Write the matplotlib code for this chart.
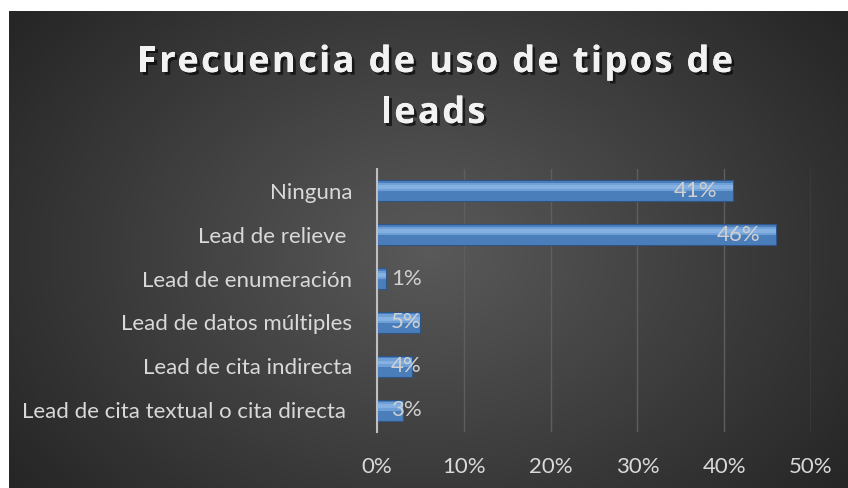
import numpy as np
import matplotlib.pyplot as plt
import matplotlib.patheffects as pe
from matplotlib.font_manager import FontProperties

# data, bottom row first
categories = ['Lead de cita textual o cita directa ', 'Lead de cita indirecta',
              'Lead de datos múltiples', 'Lead de enumeración',
              'Lead de relieve ', 'Ninguna']
values = [3, 4, 5, 1, 46, 41]
xticks = [0, 10, 20, 30, 40, 50]
xtick_labels = ['0%', '10%', '20%', '30%', '40%', '50%']
title_lines = ['Frecuencia de uso de tipos de', 'leads']

plt.rcParams['font.family'] = ['Lato', 'DejaVu Sans']

fig = plt.figure(figsize=(8.48, 4.88), dpi=100)
fig.patch.set_facecolor('white')

# dark radial gradient background
bg = fig.add_axes([9/848, 0, 839/848, 477/488])
yy, xx = np.mgrid[0:477, 0:839]
r = np.sqrt(((xx - 420) / 520.0) ** 2 + ((yy - 240) / 380.0) ** 2)
shade = np.clip(0.35 - 0.2 * r, 0.15, 0.35)
bg.imshow(np.dstack([shade, shade, shade]), aspect='auto', interpolation='bilinear')
bg.axis('off')

ax = fig.add_axes([377/848, 56/488, 434/848, 263/488])
ax.set_facecolor('none')
ypos = np.arange(len(categories))
h = 0.48
ax.barh(ypos, values, height=h, color='#4a7ebb', edgecolor='#2f5586', linewidth=0.8, zorder=3)
# soft bevel highlight
ax.barh(ypos + h * 0.18, values, height=h * 0.4, color='#8dbbef', alpha=0.55, linewidth=0, zorder=4)
ax.barh(ypos + h * 0.18, values, height=h * 0.18, color='#a9cdf5', alpha=0.4, linewidth=0, zorder=4)

for y, v in zip(ypos, values):
    if v > 5:
        ax.text(v - 1.8, y, f'{v}%', ha='right', va='center', color='#d0d0d0', fontsize=16, zorder=5)
    else:
        ax.text(1.6, y, f'{v}%', ha='left', va='center', color='#d0d0d0', fontsize=16, zorder=5)

ax.set_xlim(0, 50)
ax.set_ylim(-0.5, 5.5)
ax.set_xticks(xticks)
ax.set_xticklabels(xtick_labels)
ax.set_yticks(ypos)
ax.set_yticklabels(categories)
ax.tick_params(axis='both', length=0, colors='#d9d9d9', labelsize=16)
ax.tick_params(axis='y', pad=18)
ax.tick_params(axis='x', pad=18)
ax.grid(axis='x', color='#5e5e5e', linewidth=1, zorder=0)
for s in ['top', 'right', 'bottom']:
    ax.spines[s].set_visible(False)
ax.spines['left'].set_color('#bfbfbf')
ax.spines['left'].set_linewidth(1.5)
ax.spines['left'].set_zorder(6)

# letter-spaced title, placed char by char
shadow = [pe.withSimplePatchShadow(offset=(2, -2), shadow_rgbFace='black', alpha=0.6), pe.Normal()]
fp = FontProperties(family='Open Sans', weight='bold', size=26)
renderer = fig.canvas.get_renderer()

def width(s):
    return renderer.get_text_width_height_descent(s, fp, ismath=False)[0]

spacing = (596 - width(title_lines[0])) / (len(title_lines[0]) - 1)
for line, cx, base in zip(title_lines, [435, 433], [72, 123]):
    pos = []
    for i, c in enumerate(line):
        if c != ' ':
            pos.append((c, width(line[:i + 1]) - width(c) + i * spacing))
    total = width(line) + (len(line) - 1) * spacing
    x0 = cx - total / 2
    for c, px in pos:
        fig.text((x0 + px) / 848, 1 - base / 488, c, ha='left', va='baseline',
                 fontproperties=fp, color='#f2f2f2', path_effects=shadow)

fig.savefig('out.png', dpi=100)
